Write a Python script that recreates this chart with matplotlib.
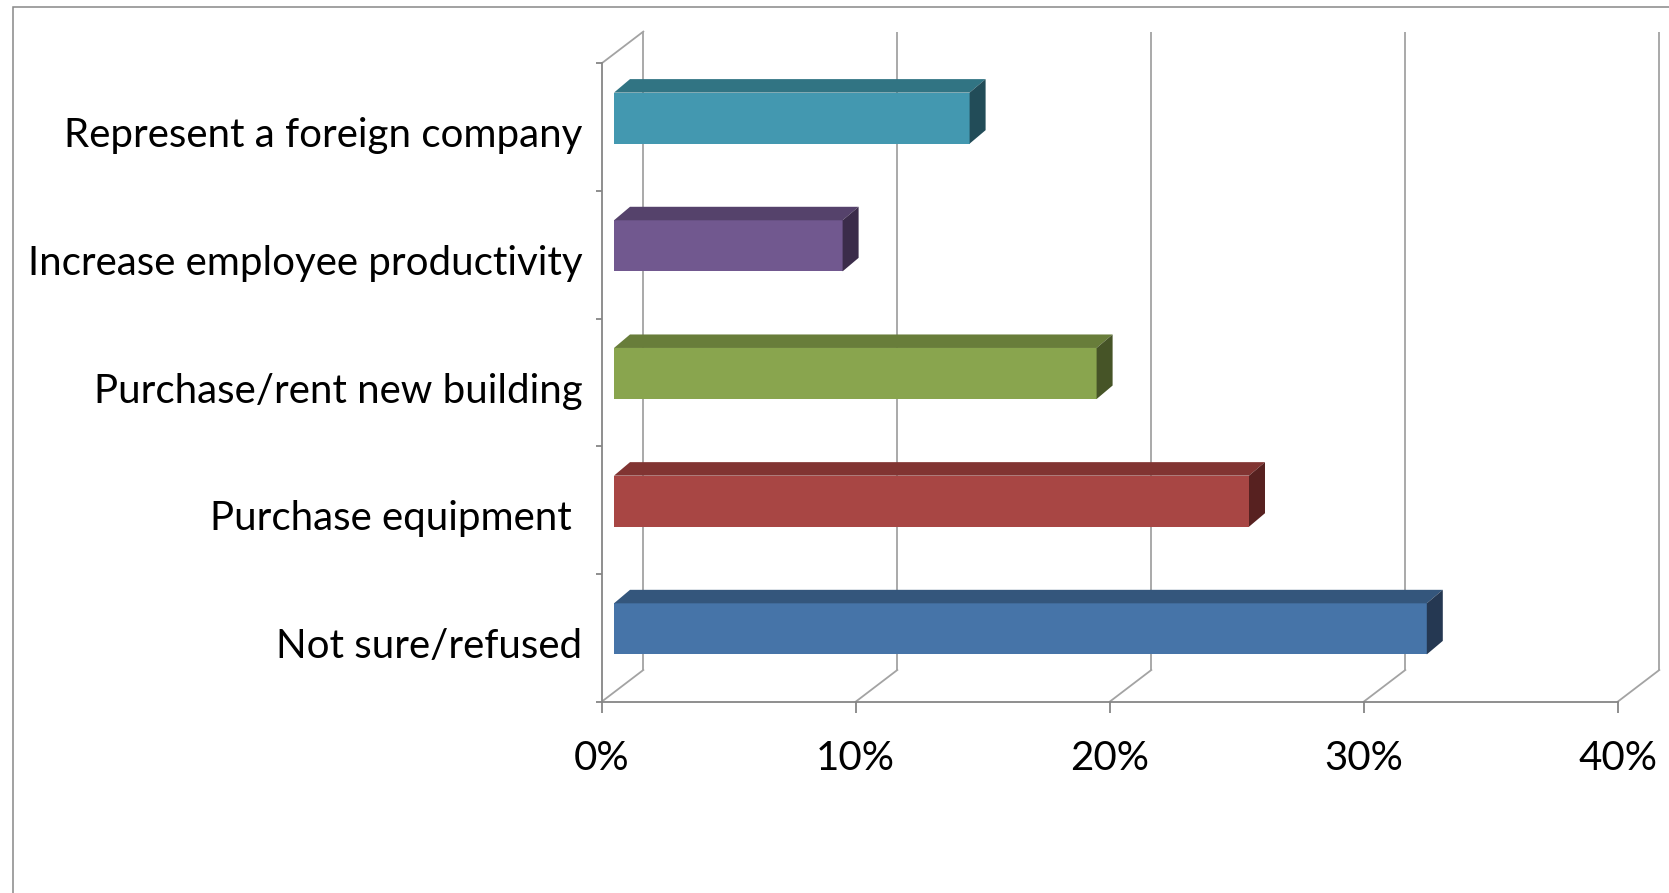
import matplotlib
matplotlib.use("Agg")
import matplotlib.pyplot as plt
from matplotlib.transforms import ScaledTranslation
from matplotlib.patches import Rectangle

# ---------------- data ----------------
categories = ["Not sure/refused", "Purchase equipment ", "Purchase/rent new building",
              "Increase employee productivity", "Represent a foreign company"]
values = [32, 25, 19, 9, 14]
front_colors = ["#4674A8", "#A84644", "#89A54E", "#71588F", "#4398B0"]
top_colors = ["#34567C", "#813432", "#687D3A", "#55426B", "#317483"]
side_colors = ["#253852", "#572120", "#465427", "#3B2C4A", "#224C58"]
xticks = [0, 10, 20, 30, 40]
xticklabels = ["0%", "10%", "20%", "30%", "40%"]

plt.rcParams['font.family'] = ['Lato', 'DejaVu Sans']

W, H = 1669, 893
fig = plt.figure(figsize=(W / 100, H / 100), dpi=100)

# front plane (pixels)
x0px, x1px = 601.7, 1617.7
ytop, ybot = 63.3, 701.7
ax = fig.add_axes([x0px / W, 1 - ybot / H, (x1px - x0px) / W, (ybot - ytop) / H])
ax.set_xlim(0, 40)
ax.set_ylim(-0.5, 4.5)
ax.patch.set_alpha(0)

px_x = (x1px - x0px) / 40.0
px_y = (ybot - ytop) / 5.0
DX = 41.6 / px_x       # wall depth in data units
DY = 31.7 / px_y
OX0 = 12.3 / px_x      # bar front-face offset
OY0 = 9.0 / px_y
BDX = 16.0 / px_x      # bar depth
BDY = 13.5 / px_y
BH = 0.4               # bar height (category units)

wall_c = "#A3A3A3"
axis_c = "#868686"
lw = 1.3

# back wall gridlines and floor diagonals
for v in xticks:
    ax.plot([v + DX, v + DX], [-0.5 + DY, 4.5 + DY], color=wall_c, lw=lw,
            clip_on=False, zorder=1, solid_capstyle='butt')
    ax.plot([v, v + DX], [-0.5, -0.5 + DY], color=wall_c, lw=lw,
            clip_on=False, zorder=1)
# left wall top edge
ax.plot([0, DX], [4.5, 4.5 + DY], color=wall_c, lw=lw, clip_on=False, zorder=1)

# bars
for i, (v, fc, tc, sc) in enumerate(zip(values, front_colors, top_colors, side_colors)):
    yc = i + OY0
    bot, top = yc - BH / 2, yc + BH / 2
    ax.barh(yc, v, height=BH, left=OX0, color=fc, zorder=3, lw=0)
    ax.fill([OX0, OX0 + v, OX0 + v + BDX, OX0 + BDX],
            [top, top, top + BDY, top + BDY], color=tc, zorder=3, lw=0)
    ax.fill([OX0 + v, OX0 + v + BDX, OX0 + v + BDX, OX0 + v],
            [bot, bot + BDY, top + BDY, top], color=sc, zorder=3, lw=0)

# axes styling
for s in ["top", "right"]:
    ax.spines[s].set_visible(False)
for s in ["left", "bottom"]:
    ax.spines[s].set_color(axis_c)
    ax.spines[s].set_linewidth(lw)
    ax.spines[s].set_zorder(2)

ax.set_xticks(xticks)
ax.set_xticklabels(xticklabels)
ax.tick_params(axis='x', length=7.7, width=lw, color=axis_c, labelsize=29, pad=20,
               labelcolor='black')
ax.set_yticks(range(len(categories)))
ax.set_yticklabels(categories)
ax.set_yticks([k - 0.5 for k in range(len(categories) + 1)], minor=True)
ax.tick_params(axis='y', which='major', length=0, labelsize=29, pad=14, labelcolor='black')
ax.tick_params(axis='y', which='minor', length=4.5, width=lw, color=axis_c)
off = ScaledTranslation(0, -3.7 / 72, fig.dpi_scale_trans)
for lab in ax.get_yticklabels():
    lab.set_transform(lab.get_transform() + off)

# outer chart border (partly cropped)
fig.add_artist(Rectangle((13.3 / W, -0.2), 2.0, (1 - 6.7 / H) + 0.2,
                         transform=fig.transFigure, fill=False, ec="#888888", lw=1.1))

fig.savefig("out.png", dpi=100)
